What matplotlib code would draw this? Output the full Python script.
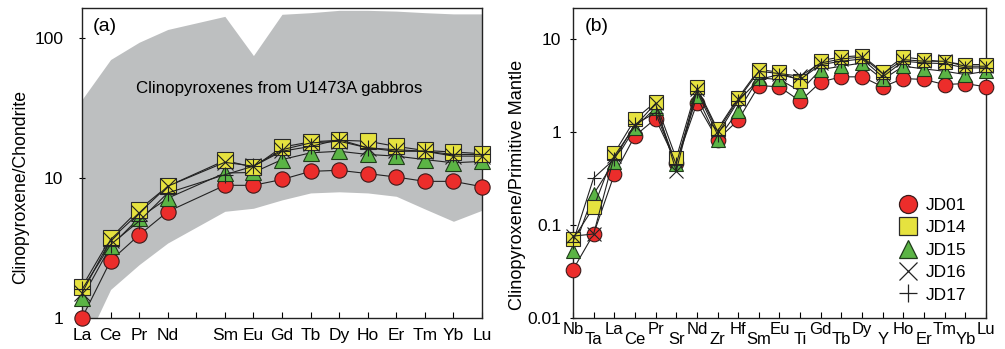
import numpy as np
import matplotlib
matplotlib.use("Agg")
import matplotlib.pyplot as plt
from matplotlib.lines import Line2D

plt.rcParams['font.family'] = ['Liberation Sans', 'DejaVu Sans']

# (a) chondrite-normalised REE, Pm slot left empty
ree = ['La', 'Ce', 'Pr', 'Nd', '', 'Sm', 'Eu', 'Gd', 'Tb', 'Dy', 'Ho', 'Er', 'Tm', 'Yb', 'Lu']
ree_pos = [0, 1, 2, 3, 5, 6, 7, 8, 9, 10, 11, 12, 13, 14]

ree_jd01 = [1.0, 2.57, 3.93, 5.77, 8.9, 8.9, 9.8, 11.2, 11.4, 10.8, 10.2, 9.5, 9.5, 8.7]
ree_jd14 = [1.67, 3.74, 5.97, 8.77, 13.4, 12.0, 16.7, 18.2, 18.7, 18.4, 16.9, 15.8, 15.4, 15.0]
ree_jd15 = [1.39, 3.26, 5.2, 7.2, 10.9, 11.0, 13.6, 15.2, 15.6, 14.8, 14.4, 13.6, 12.9, 13.2]
ree_jd16 = [1.51, 3.64, 5.65, 8.77, 13.0, 12.2, 16.0, 17.9, 18.4, 16.5, 16.0, 15.6, 14.4, 14.4]
ree_jd17 = [1.6, 3.35, 4.93, 7.85, 10.6, 12.2, 15.6, 16.9, 18.9, 16.5, 15.6, 15.6, 14.8, 14.8]

# U1473A gabbro clinopyroxene field
field_pos = [0, 1, 2, 3, 5, 6, 7, 8, 9, 10, 11, 12, 13, 14]
field_hi = [36.6, 70.7, 94, 116, 144, 75.5, 149, 153, 159, 159, 157, 153, 150, 150]
field_lo = [0.59, 1.6, 2.41, 3.44, 5.8, 6.1, 7.0, 7.85, 8.0, 7.85, 7.43, 6.03, 4.92, 5.9]

# (b) primitive-mantle-normalised trace elements
trace = ['Nb', 'Ta', 'La', 'Ce', 'Pr', 'Sr', 'Nd', 'Zr', 'Hf', 'Sm', 'Eu',
         'Ti', 'Gd', 'Tb', 'Dy', 'Y', 'Ho', 'Er', 'Tm', 'Yb', 'Lu']

pm_jd01 = [0.033, 0.080, 0.35, 0.91, 1.39, 0.47, 2.03, 0.83, 1.34, 3.16, 3.06,
           2.15, 3.46, 3.92, 3.92, 3.06, 3.76, 3.67, 3.24, 3.32, 3.06]
pm_jd14 = [0.070, 0.155, 0.59, 1.37, 2.1, 0.52, 3.03, 1.07, 2.33, 4.69, 4.4,
           3.58, 5.86, 6.42, 6.63, 4.4, 6.42, 6.0, 5.67, 5.31, 5.31]
pm_jd15 = [0.053, 0.215, 0.48, 1.11, 1.82, 0.45, 2.43, 0.83, 1.68, 3.82, 3.67,
           2.75, 4.69, 5.1, 5.53, 3.67, 5.1, 4.77, 4.5, 4.15, 4.5]
pm_jd16 = [0.076, 0.080, 0.55, 1.16, 2.03, 0.38, 2.91, 1.02, 2.24, 4.5, 4.25,
           3.98, 5.53, 6.1, 6.42, 4.25, 6.0, 5.77, 5.77, 5.1, 5.1]
pm_jd17 = [0.065, 0.32, 0.51, 1.21, 1.61, 0.45, 2.75, 0.94, 2.15, 3.67, 4.15,
           3.67, 5.31, 5.77, 6.1, 3.92, 5.77, 5.53, 5.44, 4.89, 4.89]

samples = ['JD01', 'JD14', 'JD15', 'JD16', 'JD17']
ree_data = [ree_jd01, ree_jd14, ree_jd15, ree_jd16, ree_jd17]
pm_data = [pm_jd01, pm_jd14, pm_jd15, pm_jd16, pm_jd17]

styles = {
    'JD01': dict(marker='o', mfc='#ec2d2b', mec='#3a1a1a', zorder=3),
    'JD14': dict(marker='s', mfc='#e6e23f', mec='#2a2a2a', zorder=5),
    'JD15': dict(marker='^', mfc='#5bb445', mec='#1f3a1a', zorder=4),
    'JD16': dict(marker='x', mfc='none', mec='#222222', zorder=6),
    'JD17': dict(marker='+', mfc='none', mec='#222222', zorder=7),
}

FS = 12.5

fig = plt.figure(figsize=(10.05, 3.49), dpi=100)
ax1 = fig.add_axes([0.0816, 0.0888, 0.398, 0.888])
ax2 = fig.add_axes([0.5701, 0.0888, 0.411, 0.888])

# ---- panel (a)
ax1.fill_between(field_pos, field_lo, field_hi, color='#bdbfc0', lw=0, zorder=1)
for name, vals in zip(samples, ree_data):
    st = styles[name]
    ax1.plot(ree_pos, vals, color='#222222', lw=0.8, marker=st['marker'],
             ms=11, mfc=st['mfc'], mec=st['mec'], mew=0.8, zorder=st['zorder'],
             clip_on=False)
ax1.set_yscale('log')
ax1.set_ylim(1, 165)
ax1.set_xlim(0, 14)
ax1.set_yticks([1, 10, 100])
ax1.set_yticklabels(['1', '10', '100'])
ax1.yaxis.set_minor_locator(matplotlib.ticker.NullLocator())
ax1.set_xticks(range(len(ree)))
ax1.set_xticklabels(ree)
ax1.tick_params(axis='x', direction='in', length=4, width=0.8, pad=7, labelsize=FS)
ax1.tick_params(axis='y', direction='inout', length=5, width=0.8, pad=11, labelsize=FS)
ax1.set_ylabel('Clinopyroxene/Chondrite', fontsize=12.7)
ax1.yaxis.set_label_coords(-0.131, 0.423)
ax1.text(0.028, 0.94, '(a)', transform=ax1.transAxes, fontsize=14, va='center')
ax1.text(6.9, 44, 'Clinopyroxenes from U1473A gabbros', fontsize=12.2,
         ha='center', va='center', zorder=2)

# ---- panel (b)
x2 = np.arange(len(trace))
for name, vals in zip(samples, pm_data):
    st = styles[name]
    ax2.plot(x2, vals, color='#222222', lw=0.8, marker=st['marker'],
             ms=10.5, mfc=st['mfc'], mec=st['mec'], mew=0.8, zorder=st['zorder'],
             clip_on=False)
ax2.set_yscale('log')
ax2.set_ylim(0.01, 21.5)
ax2.set_xlim(0, len(trace) - 1)
ax2.set_yticks([0.01, 0.1, 1, 10])
ax2.set_yticklabels(['0.01', '0.1', '1', '10'])
ax2.yaxis.set_minor_locator(matplotlib.ticker.NullLocator())
# staggered labels: even elements on the upper row, odd on the lower row
ax2.set_xticks(x2[0::2])
ax2.set_xticklabels(trace[0::2])
ax2.set_xticks(x2[1::2], minor=True)
ax2.set_xticklabels(trace[1::2], minor=True)
ax2.tick_params(axis='x', which='major', direction='in', length=4, width=0.8,
                pad=3, labelsize=12)
ax2.tick_params(axis='x', which='minor', direction='in', length=4, width=0.8,
                pad=10, labelsize=12)
ax2.tick_params(axis='y', direction='inout', length=5, width=0.8, pad=6, labelsize=FS)
ax2.set_ylabel('Clinopyroxene/Primitive Mantle', fontsize=13.1)
ax2.yaxis.set_label_coords(-0.114, 0.429)
ax2.text(0.028, 0.94, '(b)', transform=ax2.transAxes, fontsize=14, va='center')

handles = []
for name in samples:
    st = styles[name]
    handles.append(Line2D([], [], ls='none', marker=st['marker'], ms=13,
                          mfc=st['mfc'], mec=st['mec'], mew=0.9, label=name))
ax2.legend(handles=handles, loc='lower right', bbox_to_anchor=(0.985, 0.005),
           frameon=False, fontsize=FS, handlelength=1.0, handletextpad=0.5,
           labelspacing=0.42, borderpad=0.3)

for ax in (ax1, ax2):
    for sp in ax.spines.values():
        sp.set_linewidth(1.0)
        sp.set_color('#222222')

fig.savefig('out.png', dpi=100)
